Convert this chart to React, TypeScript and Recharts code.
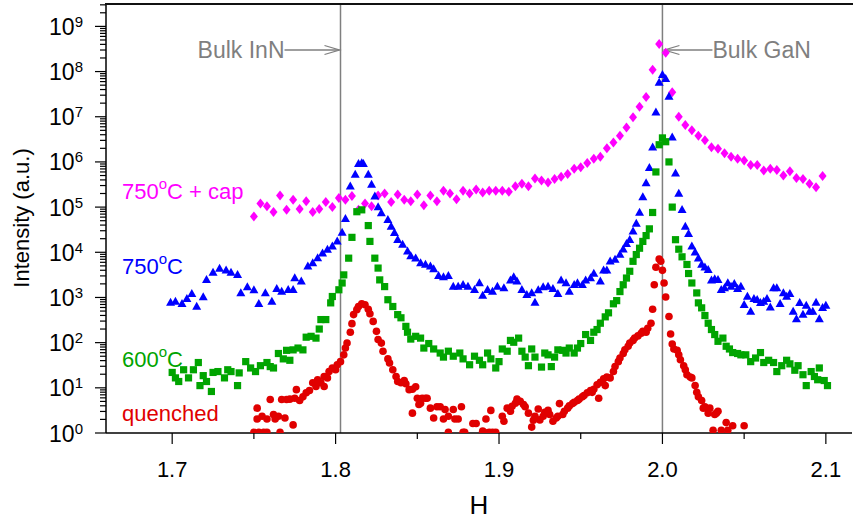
import React from 'react'
import { ScatterChart, Scatter, XAxis, YAxis, ReferenceLine } from 'recharts'

type Pt = [number, number]

// 750°C + cap (magenta diamonds)
const capData: Pt[] = [
  [1.750, 6.2e4], [1.754, 1.2e5], [1.758, 1.05e5], [1.762, 7.8e4], [1.766, 1.8e5], [1.770, 8.7e4],
  [1.774, 1.45e5], [1.778, 9.1e4], [1.782, 1.35e5], [1.786, 7.8e4], [1.790, 9.1e4], [1.794, 1.3e5],
  [1.798, 1.0e5], [1.802, 1.6e5], [1.806, 1.45e5], [1.810, 1.75e5], [1.814, 8.7e4], [1.818, 1.2e5],
  [1.822, 1.05e5], [1.826, 1.8e5], [1.830, 2.0e5], [1.834, 1.3e5], [1.838, 1.9e5], [1.842, 1.45e5],
  [1.846, 1.35e5], [1.850, 1.9e5], [1.854, 1.1e5], [1.858, 1.8e5], [1.862, 1.35e5], [1.866, 2.3e5],
  [1.870, 2.0e5], [1.874, 1.5e5], [1.878, 2.3e5], [1.882, 2.0e5], [1.886, 2.45e5], [1.890, 2.1e5],
  [1.894, 2.3e5], [1.898, 2.3e5], [1.902, 2.3e5], [1.906, 2.2e5], [1.910, 2.9e5], [1.914, 3.3e5],
  [1.918, 2.9e5], [1.922, 4.3e5], [1.926, 3.9e5], [1.930, 3.5e5], [1.934, 4.2e5], [1.938, 4.7e5],
  [1.942, 5.4e5], [1.946, 7.1e5], [1.950, 7.6e5], [1.954, 9.5e5], [1.958, 1.17e6], [1.962, 1.3e6],
  [1.966, 2.0e6], [1.970, 2.7e6], [1.974, 3.8e6], [1.978, 5.8e6], [1.982, 9.8e6], [1.986, 1.66e7],
  [1.990, 2.75e7], [1.994, 1.1e8], [1.998, 4.1e8], [2.002, 2.6e8], [2.006, 3.5e7], [2.010, 1.0e7],
  [2.014, 6.6e6], [2.018, 5.0e6], [2.022, 3.8e6], [2.026, 3.0e6], [2.030, 2.1e6], [2.034, 1.95e6],
  [2.038, 1.55e6], [2.042, 1.3e6], [2.046, 1.17e6], [2.050, 1.07e6], [2.054, 8.5e5], [2.058, 8.5e5],
  [2.062, 6.5e5], [2.066, 7.1e5], [2.070, 6.6e5], [2.074, 5.0e5], [2.078, 6.2e5], [2.082, 4.4e5],
  [2.086, 4.2e5], [2.090, 3.3e5], [2.094, 2.75e5], [2.098, 4.9e5],
]

// 750°C (blue triangles)
const t750Data: Pt[] = [
  [1.699, 776], [1.702, 813], [1.706, 724], [1.709, 933], [1.712, 1200], [1.715, 631], [1.719, 1020],
  [1.721, 2450], [1.725, 3550], [1.729, 4370], [1.733, 3980], [1.736, 3550], [1.740, 3160], [1.742, 1260],
  [1.746, 1700], [1.750, 1450], [1.753, 724], [1.757, 1260], [1.761, 813], [1.764, 1550], [1.767, 1350],
  [1.771, 1480], [1.774, 1480], [1.775, 2690], [1.779, 2290], [1.783, 4900], [1.786, 5750], [1.789, 7410],
  [1.792, 9550], [1.795, 1.15e4], [1.798, 1.35e4], [1.801, 1.74e4], [1.804, 2.75e4], [1.806, 5.5e4],
  [1.809, 2.88e5], [1.812, 5.25e5], [1.814, 9.1e5], [1.816, 9.5e5], [1.817, 9.1e5], [1.820, 5.25e5],
  [1.822, 3.16e5], [1.824, 1.74e5], [1.826, 1.0e5], [1.828, 7.4e4], [1.832, 5.25e4], [1.834, 3.7e4],
  [1.836, 2.7e4], [1.838, 1.9e4], [1.841, 1.48e4], [1.844, 1.05e4], [1.846, 8300], [1.849, 7400],
  [1.852, 5750], [1.855, 5370], [1.858, 4900], [1.860, 4270], [1.863, 3020], [1.866, 2820], [1.869, 3020],
  [1.872, 1740], [1.875, 1740], [1.878, 1910], [1.881, 1740], [1.885, 1480], [1.888, 2090], [1.890, 1100],
  [1.893, 1480], [1.896, 1350], [1.899, 1740], [1.903, 1620], [1.907, 2400], [1.909, 2820], [1.911, 2290],
  [1.914, 1480], [1.917, 1150], [1.920, 1260], [1.922, 776], [1.924, 1450], [1.927, 1700], [1.930, 1740],
  [1.933, 1550], [1.936, 1200], [1.938, 2400], [1.941, 2090], [1.943, 1350], [1.946, 1910], [1.948, 2090],
  [1.951, 1910], [1.953, 2400], [1.956, 2690], [1.958, 3390], [1.962, 2290], [1.964, 3980], [1.966, 3980],
  [1.968, 6310], [1.971, 6920], [1.974, 8910], [1.976, 1.17e4], [1.978, 1.55e4], [1.980, 1.9e4],
  [1.982, 2.9e4], [1.984, 4.3e4], [1.986, 7.6e4], [1.988, 1.66e5], [1.990, 3.4e5], [1.992, 7.4e5],
  [1.994, 2.1e6], [1.996, 1.26e7], [1.998, 5.75e7], [2.000, 8.5e7], [2.002, 6.9e7], [2.004, 2.8e7],
  [2.006, 3.5e6], [2.008, 5.6e5], [2.010, 2.0e5], [2.012, 8.7e4], [2.014, 3.7e4], [2.016, 2.57e4],
  [2.018, 1.35e4], [2.020, 1.0e4], [2.022, 7400], [2.024, 5370], [2.026, 4680], [2.028, 4070],
  [2.030, 2400], [2.032, 2570], [2.034, 2450], [2.036, 1480], [2.038, 1620], [2.040, 2090], [2.042, 1740],
  [2.044, 2000], [2.046, 1550], [2.048, 1740], [2.050, 692], [2.052, 1050], [2.054, 490], [2.056, 933],
  [2.058, 891], [2.060, 759], [2.062, 813], [2.064, 933], [2.066, 603], [2.068, 1620], [2.070, 1620],
  [2.072, 724], [2.074, 1260], [2.076, 1050], [2.078, 1200], [2.080, 490], [2.082, 331], [2.084, 759],
  [2.086, 417], [2.088, 661], [2.090, 490], [2.092, 490], [2.094, 776], [2.096, 331], [2.098, 589],
  [2.100, 661],
]

// 600°C (green squares)
const t600Data: Pt[] = [
  [1.700, 21.9], [1.702, 16.6], [1.704, 13.8], [1.707, 25.1], [1.710, 16.6], [1.713, 25.1], [1.716, 36.3],
  [1.717, 11.2], [1.719, 18.6], [1.721, 13.8], [1.724, 8.3], [1.725, 21.9], [1.728, 22.9], [1.732, 16.6],
  [1.734, 25.1], [1.736, 22.9], [1.740, 11.2], [1.741, 21.4], [1.745, 38], [1.748, 27.5], [1.751, 22.9],
  [1.754, 30.9], [1.758, 36.3], [1.760, 29.5], [1.762, 27.5], [1.765, 57.5], [1.768, 43.7], [1.770, 67.6],
  [1.772, 40.7], [1.774, 69.2], [1.777, 75.9], [1.780, 69.2], [1.782, 132], [1.785, 138], [1.788, 126],
  [1.790, 200], [1.791, 324], [1.794, 324], [1.797, 759], [1.798, 1050], [1.802, 1480], [1.804, 2090],
  [1.805, 3160], [1.808, 7410], [1.810, 2.14e4], [1.813, 7.9e4], [1.816, 8.7e4], [1.820, 3.9e4],
  [1.821, 1.74e4], [1.824, 7410], [1.826, 4470], [1.827, 2450], [1.830, 1740], [1.832, 891], [1.835, 631],
  [1.838, 417], [1.840, 355], [1.843, 229], [1.844, 170], [1.846, 120], [1.849, 138], [1.852, 126],
  [1.854, 75.9], [1.857, 95.5], [1.860, 72.4], [1.864, 58.9], [1.866, 47.9], [1.869, 64.6], [1.872, 50.1],
  [1.876, 58.9], [1.878, 43.7], [1.882, 32.4], [1.885, 50.1], [1.888, 40.7], [1.890, 32.4], [1.893, 58.9],
  [1.895, 43.7], [1.898, 27.5], [1.900, 38], [1.902, 72.4], [1.905, 64.6], [1.907, 112], [1.909, 102],
  [1.912, 126], [1.914, 64.6], [1.916, 47.9], [1.918, 30.9], [1.920, 72.4], [1.922, 47.9], [1.926, 28.8],
  [1.928, 58.9], [1.930, 53.7], [1.932, 29.5], [1.934, 47.9], [1.936, 69.2], [1.939, 67.6], [1.941, 58.9],
  [1.943, 75.9], [1.946, 58.9], [1.948, 75.9], [1.950, 95.5], [1.953, 151], [1.956, 112], [1.958, 170],
  [1.960, 195], [1.962, 269], [1.965, 372], [1.967, 457], [1.970, 724], [1.972, 851], [1.974, 1350],
  [1.976, 1910], [1.978, 2690], [1.980, 3800], [1.982, 6310], [1.984, 8910], [1.986, 1.23e4],
  [1.988, 1.74e4], [1.990, 2.34e4], [1.992, 3.3e4], [1.994, 7.6e4], [1.996, 6.0e5], [1.998, 2.4e6],
  [2.000, 3.4e6], [2.002, 2.8e6], [2.004, 1.0e6], [2.006, 1.0e5], [2.008, 1.9e4], [2.010, 1.17e4],
  [2.012, 7940], [2.015, 5370], [2.016, 3390], [2.018, 2090], [2.021, 1260], [2.022, 759], [2.024, 589],
  [2.026, 398], [2.028, 269], [2.030, 195], [2.032, 151], [2.034, 107], [2.037, 126], [2.039, 83.2],
  [2.041, 72.4], [2.043, 60.3], [2.046, 57.5], [2.048, 53.7], [2.051, 53.7], [2.054, 38], [2.057, 45.7],
  [2.060, 60.3], [2.062, 36.3], [2.065, 40.7], [2.068, 36.3], [2.070, 22.9], [2.073, 30.9], [2.076, 40.7],
  [2.078, 33.9], [2.081, 24.5], [2.083, 30.9], [2.086, 19.5], [2.088, 11.2], [2.091, 22.9], [2.093, 17.8],
  [2.095, 15.1], [2.096, 27.5], [2.099, 14.5], [2.101, 11.2],
]

// quenched (red circles)
const quenchedData: Pt[] = [
  [1.750, 1.03], [1.752, 3.55], [1.752, 2.04], [1.753, 1.03], [1.755, 2.34], [1.756, 1.03], [1.758, 2.04],
  [1.758, 1.03], [1.760, 5.5], [1.762, 2.57], [1.763, 2.04], [1.765, 2.34], [1.766, 1.03], [1.767, 5.5],
  [1.769, 2.14], [1.770, 5.5], [1.772, 5.62], [1.774, 1.51], [1.775, 5.89], [1.776, 9.12], [1.778, 5.25],
  [1.780, 6.31], [1.782, 7.76], [1.784, 8.71], [1.786, 12.9], [1.788, 10.7], [1.789, 15.1], [1.791, 12.9],
  [1.793, 10.7], [1.793, 17.8], [1.795, 16.6], [1.796, 22.9], [1.798, 27.5], [1.800, 25.1], [1.801, 32.4],
  [1.803, 38], [1.805, 53.7], [1.806, 75.9], [1.807, 97.7], [1.809, 170], [1.810, 263], [1.811, 417],
  [1.813, 537], [1.814, 631], [1.816, 724], [1.818, 692], [1.820, 550], [1.821, 437], [1.823, 295],
  [1.825, 178], [1.826, 117], [1.828, 97.7], [1.829, 64.6], [1.832, 43.7], [1.833, 35.5], [1.835, 25.1],
  [1.837, 17.8], [1.838, 13.8], [1.840, 12.9], [1.842, 14.5], [1.843, 12.3], [1.845, 9.12], [1.847, 9.33],
  [1.847, 2.75], [1.849, 10.5], [1.850, 5.89], [1.851, 4.27], [1.852, 4.57], [1.853, 5.89], [1.855, 5.89],
  [1.856, 5.89], [1.858, 3.55], [1.860, 2.14], [1.862, 3.8], [1.864, 3.8], [1.866, 2.04], [1.867, 3.31],
  [1.869, 1.03], [1.869, 2.34], [1.872, 3.31], [1.873, 2.04], [1.875, 2.04], [1.877, 3.8], [1.878, 1.03],
  [1.879, 1.03], [1.884, 1.62], [1.886, 1.62], [1.890, 1.1], [1.891, 1.03], [1.892, 2.04], [1.894, 1.03],
  [1.895, 3.16], [1.896, 1.03], [1.898, 1.03], [1.902, 2.34], [1.903, 1.82], [1.905, 3.55], [1.907, 3.02],
  [1.908, 3.89], [1.910, 4.57], [1.911, 5.62], [1.913, 5.01], [1.915, 4.27], [1.916, 3.8], [1.918, 2.75],
  [1.920, 1.35], [1.921, 1.91], [1.922, 2.34], [1.924, 3.39], [1.925, 1.95], [1.927, 2.34], [1.928, 2.88],
  [1.930, 3.16], [1.931, 2.57], [1.933, 1.82], [1.935, 2.14], [1.936, 2.34], [1.937, 4.47], [1.939, 2.57],
  [1.940, 3.02], [1.942, 3.55], [1.943, 3.98], [1.945, 4.47], [1.946, 4.79], [1.948, 5.25], [1.949, 5.62],
  [1.951, 6.31], [1.952, 6.76], [1.954, 7.76], [1.956, 8.71], [1.957, 7.94], [1.958, 9.33], [1.960, 11.7],
  [1.961, 5.89], [1.962, 13.2], [1.964, 15.8], [1.965, 11.2], [1.966, 17.4], [1.968, 16.6], [1.970, 22.9],
  [1.971, 29.5], [1.973, 38], [1.974, 45.7], [1.976, 57.5], [1.977, 69.2], [1.979, 83.2], [1.980, 97.7],
  [1.982, 112], [1.983, 126], [1.985, 141], [1.987, 162], [1.988, 178], [1.990, 170], [1.991, 209],
  [1.993, 269], [1.994, 550], [1.995, 1910], [1.996, 4680], [1.998, 7080], [1.999, 6310], [2.000, 3980],
  [2.001, 2090], [2.002, 1020], [2.004, 380], [2.005, 155], [2.006, 93.3], [2.007, 72.4], [2.009, 67.6],
  [2.010, 53.7], [2.011, 41.7], [2.013, 30.9], [2.014, 25.1], [2.015, 19.5], [2.017, 17.4], [2.018, 16.6],
  [2.020, 11.2], [2.021, 7.94], [2.022, 6.31], [2.024, 5.25], [2.025, 3.55], [2.026, 3.8], [2.028, 2.75],
  [2.029, 3.55], [2.031, 1.15], [2.032, 2.57], [2.033, 2.75], [2.034, 3.02], [2.036, 1.15], [2.039, 1.7],
  [2.040, 1.15], [2.043, 1.45], [2.050, 1.45],
]

const xTicks = [1.7, 1.75, 1.8, 1.85, 1.9, 1.95, 2.0, 2.05, 2.1]
const xLabels = ['1.7', '1.8', '1.9', '2.0', '2.1']
const yExponents = [0, 1, 2, 3, 4, 5, 6, 7, 8, 9]
const yMinorFactors = [2, 3, 4, 5, 6, 7, 8, 9]
const yTicks: number[] = []
yExponents.forEach(e => {
  yTicks.push(10 ** e)
  yMinorFactors.forEach(m => {
    if (m * 10 ** e <= 3.1e9) yTicks.push(m * 10 ** e)
  })
})

const bulkInN = 1.803
const bulkGaN = 2.0

const FONT = 'Liberation Sans, Arial, sans-serif'
const GREY = '#7f7f7f'
const MAGENTA = '#ff00ff'
const BLUE = '#0000ff'
const GREEN = '#00a400'
const RED = '#e00000'

const rows = (pts: Pt[]) => pts.map(([x, y]) => ({ x, y }))

function XTick(props: any) {
  const { x, y, payload } = props
  const v = payload.value
  const major = Math.abs(v * 10 - Math.round(v * 10)) < 1e-6
  return (
    <g>
      <line x1={x} x2={x} y1={y} y2={y + (major ? 11 : 6)} stroke="#000" strokeWidth={1.2} />
      {major && (
        <text x={x} y={y + 44} textAnchor="middle" fontSize={22} fontFamily={FONT} fill="#000">
          {xLabels[Math.round(v * 10) - 17]}
        </text>
      )}
    </g>
  )
}

function YTick(props: any) {
  const { x, y, payload } = props
  const v = payload.value
  const e = Math.round(Math.log10(v))
  const major = Math.abs(v - 10 ** e) < 1e-6 * v
  return (
    <g>
      <line x1={x - (major ? 11 : 6)} x2={x} y1={y} y2={y} stroke="#000" strokeWidth={1.2} />
      {major && (
        <text x={x - 23} y={y + 8.5} textAnchor="end" fontSize={23} fontFamily={FONT} fill="#000">
          10<tspan dy={-8} fontSize={15}>{e}</tspan>
        </text>
      )}
    </g>
  )
}

const diamond = (p: any) => (
  <polygon points={`${p.cx},${p.cy - 5} ${p.cx + 4},${p.cy} ${p.cx},${p.cy + 5} ${p.cx - 4},${p.cy}`} fill={MAGENTA} />
)
const triangle = (p: any) => (
  <polygon points={`${p.cx},${p.cy - 4.8} ${p.cx + 4.5},${p.cy + 3.2} ${p.cx - 4.5},${p.cy + 3.2}`} fill={BLUE} />
)
const square = (p: any) => <rect x={p.cx - 3.6} y={p.cy - 3.6} width={7.2} height={7.2} fill={GREEN} />
const circle = (p: any) => <circle cx={p.cx} cy={p.cy} r={3.8} fill={RED} />

function BulkLabel(props: any) {
  const { viewBox, side, text } = props
  const x = viewBox.x
  const ay = viewBox.y + 46
  if (side === 'left') {
    return (
      <g>
        <line x1={x - 56} x2={x - 1} y1={ay} y2={ay} stroke={GREY} strokeWidth={1.3} />
        <polyline points={`${x - 16},${ay - 4.5} ${x - 1},${ay} ${x - 16},${ay + 4.5}`} fill="none" stroke={GREY} strokeWidth={1.3} />
        <text x={x - 56} y={ay + 8} textAnchor="end" fontSize={23} fontFamily={FONT} fill={GREY}>{text}</text>
      </g>
    )
  }
  return (
    <g>
      <line x1={x + 2} x2={x + 50} y1={ay} y2={ay} stroke={GREY} strokeWidth={1.3} />
      <polyline points={`${x + 17},${ay - 4.5} ${x + 2},${ay} ${x + 17},${ay + 4.5}`} fill="none" stroke={GREY} strokeWidth={1.3} />
      <text x={x + 50} y={ay + 8} textAnchor="start" fontSize={23} fontFamily={FONT} fill={GREY}>{text}</text>
    </g>
  )
}

function SeriesLabel({ x, y, color, pre, post }: { x: number; y: number; color: string; pre: string; post: string }) {
  return (
    <text x={x} y={y} fontSize={22} fontFamily={FONT} fill={color}>
      {pre}
      {post !== '' && (
        <>
          <tspan dy={-10} fontSize={15}>o</tspan>
          <tspan dy={10}>{post}</tspan>
        </>
      )}
    </text>
  )
}

export default function App() {
  return (
    <div style={{ position: 'relative', width: 853, height: 524, background: '#fff' }}>
      <style>{'body{margin:0}'}</style>
      <ScatterChart width={853} height={524} margin={{ top: 4, right: 1, left: 0, bottom: 0 }}>
        <XAxis
          type="number"
          dataKey="x"
          domain={[1.6595, 2.116]}
          allowDataOverflow
          ticks={xTicks}
          interval={0}
          tick={<XTick />}
          tickLine={false}
          tickSize={0}
          tickMargin={0}
          height={91}
          axisLine={{ stroke: '#000', strokeWidth: 1.5 }}
        />
        <YAxis
          type="number"
          dataKey="y"
          scale="log"
          domain={[1, 3.13e9]}
          allowDataOverflow
          ticks={yTicks}
          interval={0}
          tick={<YTick />}
          tickLine={false}
          tickSize={0}
          tickMargin={0}
          width={106}
          axisLine={{ stroke: '#000', strokeWidth: 1.5 }}
        />
        <ReferenceLine x={bulkInN} stroke={GREY} strokeWidth={1.5} label={(p: any) => <BulkLabel {...p} side="left" text="Bulk InN" />} />
        <ReferenceLine x={bulkGaN} stroke={GREY} strokeWidth={1.5} label={(p: any) => <BulkLabel {...p} side="right" text="Bulk GaN" />} />
        <Scatter data={rows(capData)} shape={diamond} isAnimationActive={false} />
        <Scatter data={rows(t750Data)} shape={triangle} isAnimationActive={false} />
        <Scatter data={rows(t600Data)} shape={square} isAnimationActive={false} />
        <Scatter data={rows(quenchedData)} shape={circle} isAnimationActive={false} />
      </ScatterChart>
      <svg width={853} height={524} style={{ position: 'absolute', left: 0, top: 0, pointerEvents: 'none' }}>
        <line x1={105} x2={853} y1={4} y2={4} stroke="#111" strokeWidth={2} />
        <text x={29} y={218} transform="rotate(-90 29 218)" textAnchor="middle" fontSize={22} fontFamily={FONT} fill="#000">
          Intensity (a.u.)
        </text>
        <text x={479} y={514} textAnchor="middle" fontSize={26} fontFamily={FONT} fill="#000">H</text>
        <SeriesLabel x={122} y={199} color={MAGENTA} pre="750" post="C + cap" />
        <SeriesLabel x={122} y={274} color={BLUE} pre="750" post="C" />
        <SeriesLabel x={122} y={367} color={GREEN} pre="600" post="C" />
        <SeriesLabel x={122} y={421} color={RED} pre="quenched" post="" />
      </svg>
    </div>
  )
}
